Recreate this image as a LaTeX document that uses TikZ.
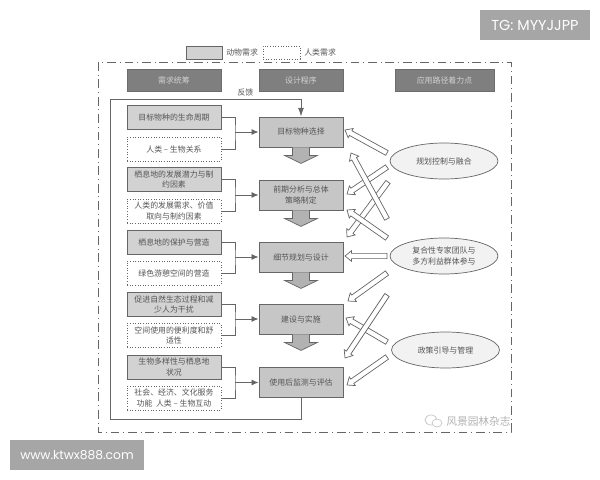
\documentclass[tikz,border=0pt]{standalone}
\usepackage{fontspec}
\setmainfont{Noto Sans CJK SC}
\newfontfamily\bannerfont{Poppins}
\usepackage{xcolor}
\usetikzlibrary{positioning, shapes, arrows, calc, arrows.meta}
\definecolor{inkgray}{HTML}{555555}
\definecolor{linegray}{HTML}{666666}
\definecolor{boxgray}{HTML}{D2D2D2}
\definecolor{stepgray}{HTML}{C6C6C6}
\definecolor{headgray}{HTML}{7F7F7F}
\definecolor{bannergray}{HTML}{A6A6A6}
\newcommand{\hollowlink}[2]{
    \coordinate (neck) at ($(#2)!3.7pt!(#1)$);
    \draw[hollowarrow] ($(#1)!1.5pt!90:(#2)$) -- ($(neck)!1.5pt!90:(#2)$) -- ($(neck)!3pt!90:(#2)$) -- (#2)
      -- ($(neck)!3pt!-90:(#2)$) -- ($(neck)!1.5pt!-90:(#2)$) -- ($(#1)!1.5pt!-90:(#2)$) -- cycle;
}

\begin{document}
\begin{tikzpicture}[x=0.02cm, y=-0.02cm, font=\fontsize{4.5pt}{6pt}\selectfont, text=inkgray,
    animalbox/.style={draw=linegray, line width=.5pt, fill=boxgray, minimum width=1.88cm, minimum height=.48cm, inner sep=0pt, align=center},
    humanbox/.style={draw=linegray, densely dotted, line width=.5pt, fill=white, minimum width=1.88cm, minimum height=.48cm, inner sep=0pt, align=center},
    headbox/.style={draw=headgray!85!black, fill=headgray, text=boxgray, minimum height=.44cm, inner sep=0pt},
    stepbox/.style={draw=linegray, line width=.5pt, fill=stepgray, minimum width=1.68cm, minimum height=.6cm, inner sep=0pt, align=center},
    pointbox/.style={ellipse, draw=linegray, line width=.4pt, fill=gray!10, minimum width=2.16cm, minimum height=.72cm, inner sep=0pt, align=center},
    downarrow/.style={draw=linegray, line width=.4pt, fill=stepgray!90!black},
    hollowarrow/.style={draw=linegray, line width=.4pt, fill=white, line join=miter},
    link/.style={draw=linegray, line width=.5pt},
    banner/.style={fill=bannergray, text=white, inner sep=0pt}]
    \useasboundingbox (0,0) rectangle (600,480);

    % Legend and outer frame
    \node[animalbox, minimum width=.72cm, minimum height=.26cm] (legenda) at (204,52.5) {};
    \node[right=2pt of legenda, inner sep=0pt] (legendatext) {动物需求};
    \node[humanbox, minimum width=.74cm, minimum height=.26cm] (legendb) at (281.5,52.5) {};
    \node[right=2pt of legendb, inner sep=0pt] (legendbtext) {人类需求};
    \draw[linegray, line width=.5pt, dash pattern=on 5pt off 2.2pt on .5pt off 2.2pt] (98,62) rectangle (511,432);

    % Column heads
    \node[headbox, minimum width=1.88cm] (heada) at (174,80) {需求统筹};
    \node[headbox, minimum width=1.68cm] (headb) at (301,80) {设计程序};
    \node[headbox, minimum width=1.98cm] (headc) at (444.5,80) {应用路径着力点};

    % Needs
    \node[animalbox] (needa) at (174,117) {目标物种的生命周期};
    \node[humanbox] (needb) at (174,149) {人类 – 生物关系};
    \node[animalbox] (needc) at (174,179.5) {栖息地的发展潜力与制\\约因素};
    \node[humanbox] (needd) at (174,211) {人类的发展需求、价值\\取向与制约因素};
    \node[animalbox] (neede) at (174,242) {栖息地的保护与营造};
    \node[humanbox] (needf) at (174,273) {绿色游憩空间的营造};
    \node[animalbox] (needg) at (174,304.5) {促进自然生态过程和减\\少人为干扰};
    \node[humanbox] (needh) at (174,335.5) {空间使用的便利度和舒\\适性};
    \node[animalbox] (needi) at (174,367) {生物多样性与栖息地\\状况};
    \node[humanbox] (needj) at (174,398) {社会、经济、文化服务\\功能 \ 人类 – 生物互动};

    % Design steps
    \node[stepbox] (stepa) at (301,132) {目标物种选择};
    \node[stepbox] (stepb) at (301,195) {前期分析与总体\\策略制定};
    \node[stepbox] (stepc) at (301,257) {细节规划与设计};
    \node[stepbox] (stepd) at (301,319) {建设与实施};
    \node[stepbox] (stepe) at (301,382.5) {使用后监测与评估};
    \draw[downarrow] ($(stepa.south)+(-8.5,0)$) -- ++(0,8) -- ++(-8,0) -- ++(16.5,8) -- ++(16.5,-8) -- ++(-8,0) -- ++(0,-8);
    \draw[downarrow] ($(stepb.south)+(-8.5,0)$) -- ++(0,8) -- ++(-8,0) -- ++(16.5,8) -- ++(16.5,-8) -- ++(-8,0) -- ++(0,-8);
    \draw[downarrow] ($(stepc.south)+(-8.5,0)$) -- ++(0,8) -- ++(-8,0) -- ++(16.5,8) -- ++(16.5,-8) -- ++(-8,0) -- ++(0,-8);
    \draw[downarrow] ($(stepd.south)+(-8.5,0)$) -- ++(0,8) -- ++(-8,0) -- ++(16.5,8) -- ++(16.5,-8) -- ++(-8,0) -- ++(0,-8);

    % Application points
    \node[pointbox] (plan) at (444,161) {规划控制与融合};
    \node[pointbox] (team) at (444,256) {复合性专家团队与\\多方利益群体参与};
    \node[pointbox] (policy) at (445.5,350) {政策引导与管理};

    % Joins between needs and steps
    \coordinate (joina) at (235,132);
    \coordinate (joinb) at (235,195);
    \coordinate (joinc) at (235,257);
    \coordinate (joind) at (235,319);
    \coordinate (joine) at (235,382.5);
    \draw[link] (needa.east) -| (joina) |- (needb.east);
    \draw[link] (needc.east) -| (joinb) |- (needd.east);
    \draw[link] (neede.east) -| (joinc) |- (needf.east);
    \draw[link] (needg.east) -| (joind) |- (needh.east);
    \draw[link] (needi.east) -| (joine) |- (needj.east);
    \draw[link, -{Latex[length=4pt, width=3.4pt]}] (joina) -- (stepa.west);
    \draw[link, -{Latex[length=4pt, width=3.4pt]}] (joinb) -- (stepb.west);
    \draw[link, -{Latex[length=4pt, width=3.4pt]}] (joinc) -- (stepc.west);
    \draw[link, -{Latex[length=4pt, width=3.4pt]}] (joind) -- (stepd.west);
    \draw[link, -{Latex[length=4pt, width=3.4pt]}] (joine) -- (stepe.west);

    % Feedback loop
    \coordinate (loopa) at (110,419);
    \coordinate (loopb) at (110,99);
    \draw[link, -{Latex[length=5pt, width=3.4pt]}] (stepe.south) |- (loopa) -- (loopb) -| (stepa.north);
    \node (feedback) at (245.5,93) {反馈};

    % Hollow arrows to the steps
    \coordinate (taila) at (387,153);  \coordinate (tipa) at (345,130);
    \coordinate (tailb) at (387,219);  \coordinate (tipb) at (351,153);
    \coordinate (tailc) at (387,167);  \coordinate (tipc) at (347,194);
    \coordinate (taild) at (388,182);  \coordinate (tipd) at (347,237);
    \coordinate (taile) at (387,238);  \coordinate (tipe) at (347,210);
    \coordinate (tailf) at (387,256);  \coordinate (tipf) at (345,256);
    \coordinate (tailg) at (387,273);  \coordinate (tipg) at (348,301);
    \coordinate (tailh) at (387,295);  \coordinate (tiph) at (345,358);
    \coordinate (taili) at (387,342);  \coordinate (tipi) at (346,318);
    \coordinate (tailj) at (387,357);  \coordinate (tipj) at (347,385);
    \hollowlink{taila}{tipa}
    \hollowlink{tailc}{tipc}
    \hollowlink{taild}{tipd}
    \hollowlink{tailb}{tipb}
    \hollowlink{taile}{tipe}
    \hollowlink{tailf}{tipf}
    \hollowlink{tailg}{tipg}
    \hollowlink{taili}{tipi}
    \hollowlink{tailh}{tiph}
    \hollowlink{tailj}{tipj}

    % Watermark and banners
    \draw[gray!45, line width=.4pt] (431,420) ellipse (6 and 5);
    \draw[gray!45, line width=.4pt, fill=white] (437,423) ellipse (5 and 4);
    \node[text=gray!60, font=\fontsize{6.1pt}{8pt}\selectfont, inner sep=0pt] (mark) at (478.5,421) {风景园林杂志};
    \node[banner, font=\bannerfont\fontsize{8.2pt}{9pt}\selectfont, minimum width=2.2cm, minimum height=.6cm] (tgbanner) at (535,25) {TG: MYYJJPP};
    \node[banner, font=\bannerfont\fontsize{7pt}{9pt}\selectfont, minimum width=2.68cm, minimum height=.6cm] (webbanner) at (77,455) {www.ktwx888.com};
  \end{tikzpicture}
\end{document}
